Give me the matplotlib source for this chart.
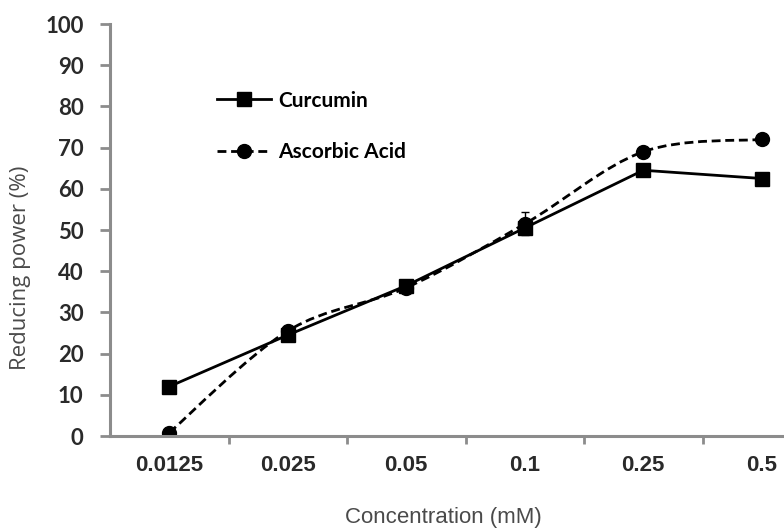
import numpy as np
import matplotlib.pyplot as plt
from matplotlib.path import Path
from matplotlib.patches import PathPatch
from matplotlib.lines import Line2D

conc = ['0.0125', '0.025', '0.05', '0.1', '0.25', '0.5']
curcumin = [12, 24.5, 36.5, 50.5, 64.5, 62.5]
curcumin_err = [0.5, 0.8, 0.8, 1.0, 0.8, 0.8]
ascorbic = [0.8, 25.5, 36, 51.5, 69, 72]
ascorbic_err = [0.3, 0.8, 0.6, 2.8, 0.8, 0.6]

x = np.arange(len(conc))
axis_grey = '#8c8c8c'
dash = (0, (3.2, 1.7))


def smooth_path(xs, ys):
    # cubic Bezier through the points, spreadsheet-style smoothed line
    pts = np.column_stack([xs, ys]).astype(float)
    n = len(pts)
    verts = [pts[0]]
    codes = [Path.MOVETO]
    for i in range(n - 1):
        p0 = pts[max(i - 1, 0)]
        p1 = pts[i]
        p2 = pts[i + 1]
        p3 = pts[min(i + 2, n - 1)]
        c1 = p1 + (p2 - p0) / 6
        c2 = p2 - (p3 - p1) / 6
        verts += [c1, c2, p2]
        codes += [Path.CURVE4] * 3
    return Path(verts, codes)


fig = plt.figure(figsize=(7.84, 5.31), dpi=100)
ax = fig.add_axes([0.1403, 0.1789, 0.907, 0.7759])

# Curcumin: straight segments
ax.errorbar(x, curcumin, yerr=curcumin_err, color='black', lw=2, marker='s',
            ms=10, capsize=3, elinewidth=1)

# Ascorbic acid: smoothed dashed line
ax.add_patch(PathPatch(smooth_path(x, ascorbic), fill=False, ec='black', lw=2,
                       ls=dash))
ax.errorbar(x, ascorbic, yerr=ascorbic_err, color='black', ls='none', marker='o',
            ms=10, capsize=3, elinewidth=1)

ax.set_xlim(-0.5, 5.5)
ax.set_ylim(0, 100)
ax.set_yticks(np.arange(0, 101, 10))
ax.set_xticks(x)
ax.set_xticklabels(conc)
ax.set_xticks(x[:-1] + 0.5, minor=True)
ax.tick_params(axis='x', which='major', length=0, pad=14)
ax.tick_params(axis='x', which='minor', length=6, width=2, color=axis_grey, direction='out')
ax.tick_params(axis='y', length=7, width=2, color=axis_grey, direction='out', pad=12)
for lab in ax.get_xticklabels():
    lab.set_fontfamily('Liberation Sans')
    lab.set_fontweight('bold')
    lab.set_fontsize(16)
    lab.set_color('#2a2a2a')
for lab in ax.get_yticklabels():
    lab.set_fontfamily('Lato')
    lab.set_fontweight('bold')
    lab.set_fontsize(16)
    lab.set_color('#2a2a2a')

for s in ['top', 'right']:
    ax.spines[s].set_visible(False)
for s in ['left', 'bottom']:
    ax.spines[s].set_color(axis_grey)
    ax.spines[s].set_linewidth(2.2)

fig.text(0.565, 0.026, 'Concentration (mM)', ha='center', va='center',
         fontsize=16, family='Liberation Sans', color='#4a4a4a')
fig.text(0.026, 0.495, 'Reducing power (%)', rotation=90, ha='center', va='center',
         fontsize=16, family='Open Sans', color='#4a4a4a')

handles = [Line2D([], [], color='black', lw=2, marker='s', ms=10),
           Line2D([], [], color='black', lw=2, marker='o', ms=10, ls=dash)]
ax.legend(handles, ['Curcumin', 'Ascorbic Acid'], loc='upper left',
          bbox_to_anchor=(0.150, 0.838), frameon=False, borderpad=0,
          borderaxespad=0, handlelength=2.6, labelspacing=1.5, handletextpad=0.35,
          prop={'family': 'Lato', 'weight': 'bold', 'size': 15})

fig.savefig('out.png', dpi=100)
